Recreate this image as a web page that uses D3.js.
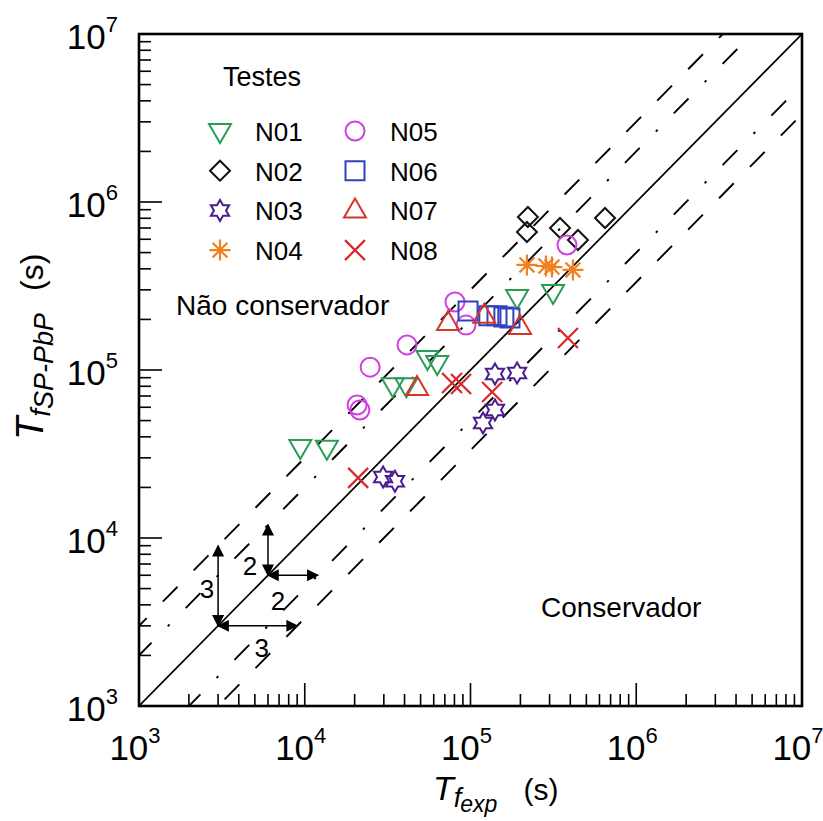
<!DOCTYPE html>
<html><head><meta charset="utf-8">
<script src="https://cdn.jsdelivr.net/npm/d3@7"></script>
<style>
body{margin:0;background:#fff;}
svg{display:block;font-family:"Liberation Sans",Arial,sans-serif;}
</style></head>
<body>
<svg id="chart" width="823" height="821"></svg>
<script>
// ---------- data ----------
const seriesNames = ["N01","N02","N03","N04","N05","N06","N07","N08"];
const seriesColors = ["#2a9d55","#111111","#4a1d8f","#f08020","#d13fe0","#3340c0","#d8352a","#d82828"];
const seriesShapes = ["triDown","diamond","hexagram","asterisk","circle","square","triUp","cross"];

const n01x = [9400, 13600, 34000, 41000, 55000, 63000, 191000, 315000];
const n01y = [34800, 34400, 81000, 81000, 118000, 110000, 272000, 291000];
const n02x = [222000, 219000, 347000, 445000, 648000];
const n02y = [814000, 663000, 700000, 594000, 803000];
const n03x = [29700, 35000, 140500, 191000, 140500, 119000];
const n03y = [23100, 21800, 94700, 96000, 57800, 48400];
const n04x = [219000, 285000, 310000, 415000];
const n04y = [422000, 416000, 410000, 394000];
const n05x = [41400, 24800, 20700, 21500, 80600, 94000, 382000];
const n05y = [141000, 104000, 61900, 57800, 254000, 185000, 555000];
const n06x = [96600, 129000, 144500, 159000, 173000];
const n06y = [224500, 210000, 210000, 207000, 204000];
const n07x = [73200, 199000, 47600, 121000];
const n07y = [190500, 180000, 78200, 210000];
const n08x = [21000, 77400, 87700, 135000, 387000];
const n08y = [22800, 83700, 82500, 74000, 155000];

const seriesX = [n01x,n02x,n03x,n04x,n05x,n06x,n07x,n08x];
const seriesY = [n01y,n02y,n03y,n04y,n05y,n06y,n07y,n08y];

const decadeExps = [3,4,5,6,7];
const refFactors = [1, 2, 3, 1/2, 1/3];
const arrowBases = [3000, 6000];
const arrowFactors = [3, 2];

// ---------- layout ----------
const L = 139, R = 802, T = 34, B = 706;
const svg = d3.select("#chart");
const x = d3.scaleLog().domain([1e3,1e7]).range([L,R]);
const y = d3.scaleLog().domain([1e3,1e7]).range([B,T]);

svg.append("defs").append("clipPath").attr("id","plotclip")
  .append("rect").attr("x",L).attr("y",T).attr("width",R-L).attr("height",B-T);

const defs = svg.select("defs");
defs.append("marker").attr("id","ah").attr("viewBox","0 0 10 10").attr("refX",9).attr("refY",5)
  .attr("markerWidth",14).attr("markerHeight",12).attr("markerUnits","userSpaceOnUse")
  .attr("orient","auto-start-reverse")
  .append("path").attr("d","M0,0 L10,5 L0,10 Z").attr("fill","#000");

// ---------- ticks (left & bottom, inward) ----------
const ticks = [];
for (let e = 3; e < 7; e++) for (let m = 1; m <= 9; m++) ticks.push({v: m*Math.pow(10,e), major: m===1});
ticks.push({v:1e7, major:true});
const gT = svg.append("g").attr("stroke","#000").attr("stroke-width",1.6);
ticks.forEach(t => {
  const len = t.major ? 23 : 12;
  gT.append("line").attr("x1",L).attr("x2",L+len).attr("y1",y(t.v)).attr("y2",y(t.v));
  gT.append("line").attr("y1",B).attr("y2",B-len).attr("x1",x(t.v)).attr("x2",x(t.v));
});

// ---------- reference lines ----------
const gLines = svg.append("g").attr("clip-path","url(#plotclip)").attr("fill","none").attr("stroke","#000");
const lineGen = d3.line().x(d=>x(d[0])).y(d=>y(d[1]));
refFactors.forEach(k => {
  const pts = [[1e3/4, 1e3/4*k],[1e7*4, 1e7*4*k]];
  const p = gLines.append("path").attr("d", lineGen(pts)).attr("stroke-width", k===1?1.7:1.9);
  if (k===2 || k===0.5) p.attr("stroke-dasharray","21,23,2.5,23");
  else if (k!==1) p.attr("stroke-dasharray","21,23");
});

// ---------- factor arrows ----------
const gA = svg.append("g").attr("stroke","#000").attr("stroke-width",1.5).attr("fill","none");
arrowBases.forEach((b,i) => {
  const f = arrowFactors[i];
  gA.append("line").attr("x1",x(b)).attr("y1",y(b)).attr("x2",x(b)).attr("y2",y(b*f))
    .attr("marker-end","url(#ah)").attr("marker-start","url(#ah)");
  gA.append("line").attr("x1",x(b)).attr("y1",y(b)).attr("x2",x(b*f)).attr("y2",y(b))
    .attr("marker-end","url(#ah)").attr("marker-start","url(#ah)");
});
const gAL = svg.append("g").attr("font-size",26).attr("text-anchor","middle").attr("fill","#000");
// factor 3 labels
gAL.append("text").attr("x", x(arrowBases[0])-11).attr("y",(y(arrowBases[0])+y(arrowBases[0]*3))/2+12).text(String(arrowFactors[0]));
gAL.append("text").attr("x",(x(arrowBases[0])+x(arrowBases[0]*3))/2+4).attr("y",y(arrowBases[0])+31).text(String(arrowFactors[0]));
// factor 2 labels
gAL.append("text").attr("x", x(arrowBases[1])-18).attr("y",(y(arrowBases[1])+y(arrowBases[1]*2))/2+25).text(String(arrowFactors[1]));
gAL.append("text").attr("x",(x(arrowBases[1])+x(arrowBases[1]*2))/2-15).attr("y",y(arrowBases[1])+35).text(String(arrowFactors[1]));

// ---------- symbols ----------
function shapePath(kind) {
  switch(kind){
    case "triDown": return "M-11,-7L11,-7L0,12Z";
    case "triUp": return "M-11,7L11,7L0,-12Z";
    case "diamond": return "M0,-10L10,0L0,10L-10,0Z";
    case "circle": return "M9.5,0A9.5,9.5 0 1,1 -9.5,0A9.5,9.5 0 1,1 9.5,0Z";
    case "square": return "M-9.5,-9.5H9.5V9.5H-9.5Z";
    case "hexagram": {
      const pts=[]; for(let i=0;i<12;i++){const a=-Math.PI/2+i*Math.PI/6; const r=i%2===0?10.5:6.06; pts.push([r*Math.cos(a),r*Math.sin(a)]);}
      return "M"+pts.map(p=>p[0].toFixed(2)+","+p[1].toFixed(2)).join("L")+"Z";
    }
    case "asterisk": {
      let s=""; for(let i=0;i<4;i++){const a=i*Math.PI/4; const c=Math.cos(a)*10.5, d=Math.sin(a)*10.5; s+=`M${(-c).toFixed(2)},${(-d).toFixed(2)}L${c.toFixed(2)},${d.toFixed(2)}`;} return s;
    }
    case "cross": return "M-10,-10L10,10M-10,10L10,-10";
  }
}
function drawSym(g, kind, color, cx, cy) {
  g.append("path").attr("d", shapePath(kind)).attr("transform",`translate(${cx},${cy})`)
    .attr("fill","none").attr("stroke",color).attr("stroke-width", kind==="asterisk"||kind==="cross"?2.2:2);
}
const gP = svg.append("g");
seriesNames.forEach((n,i) => {
  seriesX[i].forEach((xv,j) => drawSym(gP, seriesShapes[i], seriesColors[i], x(xv), y(seriesY[i][j])));
});

// ---------- frame ----------
svg.append("rect").attr("x",L).attr("y",T).attr("width",R-L).attr("height",B-T)
  .attr("fill","none").attr("stroke","#000").attr("stroke-width",2.6);

// ---------- tick labels ----------
const gYL = svg.append("g").attr("fill","#000");
decadeExps.forEach(e => {
  const t = gYL.append("text").attr("x",118).attr("y",y(Math.pow(10,e))+15).attr("text-anchor","end").attr("font-size",35);
  t.append("tspan").text("10");
  t.append("tspan").attr("font-size",22).attr("dy",-17).text(String(e));
  const u = gYL.append("text").attr("x",x(Math.pow(10,e))-4).attr("y",760).attr("text-anchor","middle").attr("font-size",35);
  u.append("tspan").text("10");
  u.append("tspan").attr("font-size",22).attr("dy",-17).text(String(e));
});

// ---------- axis titles ----------
const xt = svg.append("text").attr("x",433).attr("y",800).attr("fill","#000");
xt.append("tspan").attr("font-style","italic").attr("font-size",34).text("T");
xt.append("tspan").attr("font-style","italic").attr("font-size",27).attr("dy",7).text("f");
xt.append("tspan").attr("font-style","italic").attr("font-size",23).attr("dy",5).attr("dx",-1).text("exp");
xt.append("tspan").attr("font-size",30).attr("dy",-12).attr("dx",26).text("(s)");

const yt = svg.append("text").attr("transform","translate(43,440) rotate(-90)").attr("fill","#000");
yt.append("tspan").attr("font-style","italic").attr("font-size",38).text("T");
yt.append("tspan").attr("font-style","italic").attr("font-size",28).attr("dy",7).text("f");
yt.append("tspan").attr("font-style","italic").attr("font-size",27).attr("dy",3).text("SP-PbP");
yt.append("tspan").attr("font-size",32).attr("dy",-10).attr("dx",22).text("(s)");

// ---------- legend ----------
svg.append("text").attr("x",223).attr("y",86).attr("font-size",27).attr("fill","#000").text("Testes");
seriesNames.forEach((n,i) => {
  const col = Math.floor(i/4), row = i%4;
  const sx = 220 + col*135, cy = 131 + row*39.7;
  drawSym(svg, seriesShapes[i], seriesColors[i], sx, cy);
  svg.append("text").attr("x",sx+35).attr("y",cy+10).attr("font-size",26).attr("fill","#000").text(n);
});

// ---------- region labels ----------
svg.append("text").attr("x",176).attr("y",315).attr("font-size",28).attr("fill","#000").text("Não conservador");
svg.append("text").attr("x",541).attr("y",617).attr("font-size",28).attr("fill","#000").text("Conservador");
</script>
</body></html>
